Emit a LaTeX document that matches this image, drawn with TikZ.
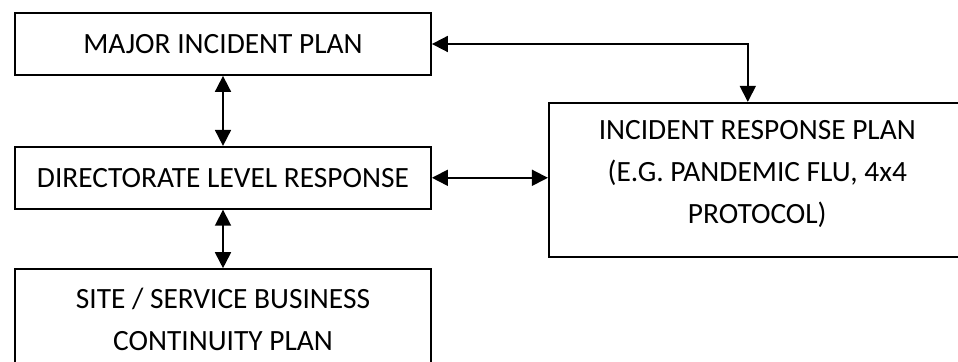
\documentclass[tikz,border=0pt]{standalone}
\usepackage{fontspec}
\setmainfont{Carlito}
\usetikzlibrary{positioning,arrows.meta}

\begin{document}
\begin{tikzpicture}[
    font=\fontsize{14.7}{21}\selectfont,
    x=0.5pt, y=-0.5pt,
    box/.style={draw, line width=0.9pt, align=center, minimum width=208pt, minimum height=31pt, inner sep=0pt},
    bigbox/.style={box, minimum height=50.5pt},
    sidebox/.style={box, minimum width=208.5pt, minimum height=77pt},
    arr/.style={{Triangle[length=8pt,width=8pt]}-{Triangle[length=8pt,width=8pt]}, line width=0.9pt}
]
\useasboundingbox (0,0) rectangle (958,362);

\node[box] (major) at (223,44) {MAJOR INCIDENT PLAN};
\node[box, below=35pt of major] (directorate) {DIRECTORATE LEVEL RESPONSE};
\node[bigbox, below=29.25pt of directorate] (site) {SITE / SERVICE BUSINESS\\CONTINUITY PLAN};

\node[sidebox, right=58pt of directorate, yshift=-1pt] (irp) {};
\node[align=center, yshift=3pt] (irptext) at (irp.center) {INCIDENT RESPONSE PLAN\\(E.G. PANDEMIC FLU, 4x4\\PROTOCOL)};

\draw[arr] (major) -- (directorate);
\draw[arr] (directorate) -- (site);
\draw[arr] (directorate.east) -- (irp.west |- directorate.east);
\draw[arr] (major.east) -| ([xshift=-4.75pt]irp.north);
\end{tikzpicture}
\end{document}
